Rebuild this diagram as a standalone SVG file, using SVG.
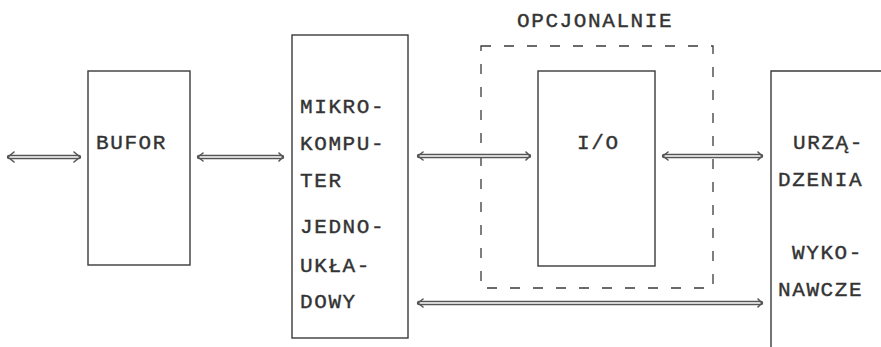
<svg xmlns="http://www.w3.org/2000/svg" width="881" height="347" viewBox="0 0 881 347">
<style>
.box{fill:none;stroke:#3a3a3a;stroke-width:1.4}
.dash{fill:none;stroke:#3a3a3a;stroke-width:1.3;stroke-dasharray:10,13}
.t{font-family:"Liberation Mono","DejaVu Sans Mono",monospace;font-size:21px;fill:#333;stroke:#333;stroke-width:0.4;letter-spacing:1.6px}
.bo{fill:none;stroke:#555;stroke-width:4.4;stroke-linecap:round}
.bi{fill:none;stroke:#fff;stroke-width:1.6;stroke-linecap:round}
.hd{fill:none;stroke:#555;stroke-width:1.6;stroke-linecap:round;stroke-linejoin:round}
</style>
<rect width="881" height="347" fill="#fff"/>
<g id="bufor">
<rect class="box" x="88" y="71" width="102" height="194"/>
<text class="t" x="96" y="149">BUFOR</text>
</g>
<g id="mikrokomputer">
<rect class="box" x="292" y="35" width="116" height="303"/>
<text class="t" x="300" y="113">MIKRO-</text>
<text class="t" x="300" y="150">KOMPU-</text>
<text class="t" x="300" y="187">TER</text>
<text class="t" x="300" y="233">JEDNO-</text>
<text class="t" x="300" y="272">UKŁA-</text>
<text class="t" x="300" y="308">DOWY</text>
</g>
<g id="opcjonalnie">
<rect class="dash" x="481" y="46" width="232" height="242"/>
<text class="t" x="517" y="27">OPCJONALNIE</text>
</g>
<g id="io">
<rect class="box" x="538" y="71" width="117" height="195"/>
<text class="t" x="577" y="149">I/O</text>
</g>
<g id="urzadzenia">
<path class="box" d="M885,71 H771 V350"/>
<text class="t" x="793" y="149">URZĄ-</text>
<text class="t" x="778" y="186">DZENIA</text>
<text class="t" x="792" y="259">WYKO-</text>
<text class="t" x="778" y="296">NAWCZE</text>
</g>
<g id="connectors">
<path class="bo" d="M9,157 H79"/><path class="bi" d="M9,157 H79"/>
<path class="hd" d="M14,152 L8,157 L14,162 M74,152 L80,157 L74,162"/>
<path class="bo" d="M199,157 H282"/><path class="bi" d="M199,157 H282"/>
<path class="hd" d="M203,153 L198,157 L203,161 M279,153 L283,157 L279,161"/>
<path class="bo" d="M419,156 H529"/><path class="bi" d="M419,156 H529"/>
<path class="hd" d="M423,152 L418,156 L423,160 M526,152 L530,156 L526,160"/>
<path class="bo" d="M664,156 H761"/><path class="bi" d="M664,156 H761"/>
<path class="hd" d="M668,152 L663,156 L668,160 M758,152 L762,156 L758,160"/>
<path class="bo" d="M419,303 H761"/><path class="bi" d="M419,303 H761"/>
<path class="hd" d="M423,299 L418,303 L423,307 M758,299 L762,303 L758,307"/>
</g>
</svg>
